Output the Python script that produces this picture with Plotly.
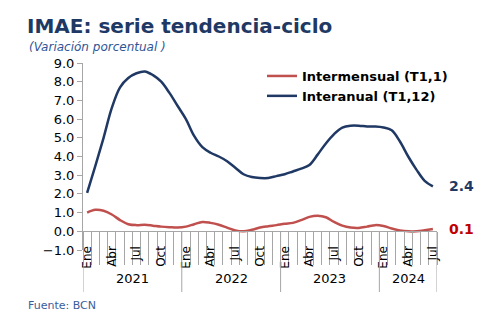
import plotly.graph_objects as go

# ---------------- data ----------------
meses = ["Ene", "Feb", "Mar", "Abr", "May", "Jun", "Jul", "Ago", "Sep", "Oct", "Nov", "Dic"]
anios = [2021, 2022, 2023, 2024]
meses_por_anio = [12, 12, 12, 7]
meses_etiqueta = ["Ene", "Abr", "Jul", "Oct"]

interanual = [
    2.05, 3.5, 5.0, 6.6, 7.7, 8.2, 8.45, 8.55, 8.35, 8.0, 7.4, 6.7,
    6.0, 5.1, 4.5, 4.2, 4.0, 3.75, 3.4, 3.05, 2.9, 2.85, 2.85, 2.95,
    3.05, 3.2, 3.35, 3.55, 4.1, 4.7, 5.2, 5.55, 5.65, 5.65, 5.6, 5.6,
    5.55, 5.4, 4.8, 4.0, 3.3, 2.7, 2.4,
]
intermensual = [
    1.0, 1.15, 1.1, 0.9, 0.6, 0.38, 0.33, 0.35, 0.3, 0.25, 0.22, 0.2,
    0.25, 0.38, 0.5, 0.45, 0.35, 0.2, 0.05, 0.0, 0.08, 0.2, 0.27, 0.33,
    0.4, 0.45, 0.6, 0.77, 0.83, 0.75, 0.5, 0.3, 0.2, 0.18, 0.25, 0.33,
    0.28, 0.15, 0.05, 0.0, 0.0, 0.05, 0.12,
]

# ---------------- layout helpers ----------------
W, H = 485, 333
L, R, T, B = 83, 48, 63, 83
plot_w = W - L - R
plot_h = H - T - B
ymin, ymax = -1, 9
y0_paper = (0 - ymin) / (ymax - ymin)


def py(pix):
    return (H - B - pix) / plot_h


def px(pix):
    return (pix - L) / plot_w


FONT = "DejaVu Sans"
NAVY = "#1F3864"
RED = "#C0504D"
GRAY = "#A6A6A6"

x = list(range(len(interanual)))
mes_lbl = [meses[i % 12] for i in x]
tickvals = [i for i in x if mes_lbl[i] in meses_etiqueta]
ticktext = [mes_lbl[i] for i in tickvals]

fig = go.Figure()
fig.add_trace(go.Scatter(
    x=x, y=intermensual, mode="lines", name="Intermensual (T1,1)",
    line=dict(color=RED, width=2.5, shape="spline", smoothing=1.0),
))
fig.add_trace(go.Scatter(
    x=x, y=interanual, mode="lines", name="Interanual (T1,12)",
    line=dict(color=NAVY, width=2.5, shape="spline", smoothing=1.0),
))

# year separators and labels
shapes = []
annotations = []
start = -0.5
bounds = [start]
for a, n in zip(anios, meses_por_anio):
    end = start + n
    bounds.append(end)
    annotations.append(dict(
        x=(start + end) / 2, xref="x", y=py(278), yref="paper",
        text=str(a), showarrow=False, xanchor="center", yanchor="middle",
        font=dict(family=FONT, size=13, color="black"),
    ))
    start = end
for b in bounds:
    shapes.append(dict(
        type="line", xref="x", yref="paper", x0=b, x1=b,
        y0=y0_paper, y1=py(292), line=dict(color=GRAY, width=1),
    ))

# end labels
annotations.append(dict(
    x=x[-1], xref="x", y=interanual[-1], yref="y",
    text=f"<b>{interanual[-1]:.1f}</b>", showarrow=False,
    xanchor="left", yanchor="middle", xshift=14,
    font=dict(family=FONT, size=14, color=NAVY),
))
annotations.append(dict(
    x=x[-1], xref="x", y=intermensual[-1], yref="y",
    text=f"<b>{intermensual[-1]:.1f}</b>", showarrow=False,
    xanchor="left", yanchor="middle", xshift=14,
    font=dict(family=FONT, size=14, color="#C00000"),
))

# subtitle and source
annotations.append(dict(
    x=px(27), xref="paper", y=py(47), yref="paper",
    text="(Variación porcentual )", showarrow=False,
    xanchor="left", yanchor="middle",
    font=dict(family=FONT, size=12, color="#2F5597", style="italic"),
))
annotations.append(dict(
    x=px(26), xref="paper", y=py(305), yref="paper",
    text="Fuente: BCN", showarrow=False,
    xanchor="left", yanchor="middle",
    font=dict(family=FONT, size=11, color="#3A5C9C"),
))

fig.update_layout(
    width=W, height=H,
    margin=dict(l=L, r=R, t=T, b=B, pad=0),
    paper_bgcolor="white", plot_bgcolor="white",
    title=dict(
        text="<b>IMAE: serie tendencia-ciclo</b>",
        x=27 / W, xref="container", xanchor="left",
        y=1 - 26 / H, yref="container", yanchor="middle",
        font=dict(family=FONT, size=20, color="#203864"),
    ),
    showlegend=True,
    legend=dict(
        x=px(262), xanchor="left", y=py(61), yanchor="top",
        bgcolor="rgba(0,0,0,0)", borderwidth=0,
        font=dict(family=FONT, size=13, color="black", weight="bold"),
        tracegroupgap=0, itemwidth=30,
    ),
    shapes=shapes,
    annotations=annotations,
    xaxis=dict(
        range=[-0.5, 42.5], anchor="free", position=y0_paper,
        showline=True, linecolor=GRAY, linewidth=1,
        showgrid=False, zeroline=False,
        tickmode="array", tickvals=tickvals, ticktext=ticktext,
        tickangle=-90, ticks="outside", ticklen=9, tickcolor="rgba(0,0,0,0)",
        tickfont=dict(family=FONT, size=12, color="black"),
        minor=dict(tickmode="linear", tick0=-0.5, dtick=1, ticks="outside",
                   ticklen=33, tickcolor=GRAY, tickwidth=1, showgrid=False),
    ),
    yaxis=dict(
        range=[ymin, ymax], tickmode="linear", tick0=0, dtick=1,
        tickformat=".1f", showline=True, linecolor=GRAY, linewidth=1,
        showgrid=False, zeroline=False,
        ticks="outside", ticklen=5, tickcolor=GRAY,
        tickfont=dict(family=FONT, size=13, color="black"),
    ),
)

fig.write_html("out.html")
